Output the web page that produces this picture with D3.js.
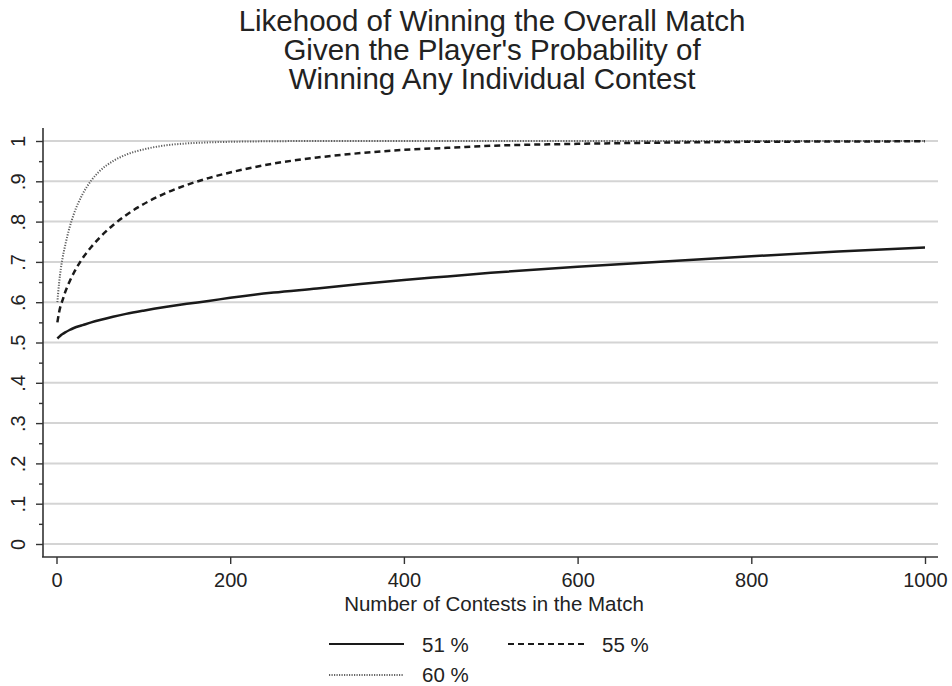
<!DOCTYPE html>
<html lang="en">
  <head>
    <meta charset="UTF-8" />
    <script src="https://d3js.org/d3.v7.min.js"></script>
    <title>Likehood of Winning the Overall Match</title>
    <style type="text/css">
      body { margin: 0; background: #fff; }
      text { font-family: 'Liberation Sans', Arial, sans-serif; fill: #222; }
    </style>
  </head>
  <body>
    <svg width="952" height="686"></svg>
  </body>
  <script type="text/javascript">
    // data
    const contests = [1, 3, 5, 7, 10, 15, 20, 30, 40, 50, 65, 80, 100, 125, 150, 175, 200, 250, 300, 350, 400, 450, 500, 600, 700, 800, 900, 1000];
    const p51 = [0.51, 0.514, 0.518, 0.521, 0.525, 0.531, 0.536, 0.543, 0.55, 0.556, 0.564, 0.571, 0.579, 0.588, 0.596, 0.603, 0.611, 0.624, 0.634, 0.645, 0.655, 0.664, 0.673, 0.688, 0.701, 0.714, 0.726, 0.736];
    const p55 = [0.55, 0.575, 0.593, 0.605, 0.625, 0.651, 0.673, 0.709, 0.737, 0.761, 0.791, 0.816, 0.843, 0.87, 0.891, 0.908, 0.922, 0.944, 0.959, 0.97, 0.978, 0.983, 0.988, 0.993, 0.996, 0.998, 0.9987, 0.9993];
    const p60 = [0.6, 0.648, 0.683, 0.71, 0.741, 0.785, 0.819, 0.868, 0.902, 0.926, 0.95, 0.966, 0.979, 0.989, 0.994, 0.9965, 0.998, 0.9994, 1, 1, 1, 1, 1, 1, 1, 1, 1, 1];
    const seriesNames = ['51 %', '55 %', '60 %'];
    const xTicks = [0, 200, 400, 600, 800, 1000];
    const yTicks = [0, 0.1, 0.2, 0.3, 0.4, 0.5, 0.6, 0.7, 0.8, 0.9, 1];
    const titleLines = ['Likehood of Winning the Overall Match', "Given the Player's Probability of", 'Winning Any Individual Contest'];

    const svg = d3.select('svg');

    // line styles per series
    const styles = [
      { stroke: '#1a1a1a', width: 2.5, dash: null },
      { stroke: '#1a1a1a', width: 2.5, dash: '6,4' },
      { stroke: '#5e5e5e', width: 2, dash: '1.2,1.5' },
    ];

    const x = d3.scaleLinear().domain([0, 1000]).range([56.5, 925]);
    const y = d3.scaleLinear().domain([0, 1]).range([544, 141]);

    // title
    svg.append('g')
      .selectAll('text')
      .data(titleLines)
      .join('text')
      .attr('x', 492)
      .attr('y', (d, i) => 31 + i * 29)
      .attr('text-anchor', 'middle')
      .attr('font-size', '29.5px')
      .text((d) => d);

    // gridlines
    svg.append('g')
      .selectAll('line')
      .data(yTicks)
      .join('line')
      .attr('x1', 43)
      .attr('x2', 938)
      .attr('y1', (d) => y(d))
      .attr('y2', (d) => y(d))
      .attr('stroke', '#d4d4d4')
      .attr('stroke-width', 2);

    // y axis
    const yAxis = svg.append('g').attr('transform', 'translate(43,0)');
    yAxis.call(d3.axisLeft(y).tickValues(d3.range(0.05, 1, 0.1)).tickSize(4).tickFormat(''));
    yAxis.call((g) => g.select('.domain').remove());
    const yMajor = svg.append('g').attr('transform', 'translate(43,0)')
      .call(d3.axisLeft(y).tickValues(yTicks).tickSize(7).tickFormat((d) => (d === 0 || d === 1 ? String(d) : d3.format('.1f')(d).replace('0.', '.'))));
    yMajor.select('.domain').remove();
    yMajor.selectAll('.tick text')
      .attr('font-size', '20px')
      .attr('x', 0)
      .attr('dy', 0)
      .attr('text-anchor', 'middle')
      .attr('transform', 'translate(-18,0) rotate(-90)');
    svg.selectAll('.tick line').attr('stroke', '#333').attr('stroke-width', 1.4);
    svg.append('line')
      .attr('x1', 43).attr('x2', 43).attr('y1', 128).attr('y2', 557)
      .attr('stroke', '#333').attr('stroke-width', 1.6);

    // x axis
    const xAxis = svg.append('g').attr('transform', 'translate(0,557)')
      .call(d3.axisBottom(x).tickValues(xTicks).tickSize(7).tickFormat(d3.format('d')));
    xAxis.select('.domain').remove();
    xAxis.selectAll('.tick line').attr('stroke', '#333').attr('stroke-width', 1.4);
    xAxis.selectAll('.tick text').attr('font-size', '20px').attr('dy', '1em');
    svg.append('line')
      .attr('x1', 42).attr('x2', 938).attr('y1', 557).attr('y2', 557)
      .attr('stroke', '#333').attr('stroke-width', 1.6);

    svg.append('text')
      .attr('x', 494)
      .attr('y', 610.5)
      .attr('text-anchor', 'middle')
      .attr('font-size', '20.5px')
      .text('Number of Contests in the Match');

    // series lines
    const allSeries = [p51, p55, p60];
    const line = d3.line()
      .x((d) => x(d[0]))
      .y((d) => y(d[1]))
      .curve(d3.curveMonotoneX);

    // draw the dotted one first so the others sit on top
    [2, 1, 0].forEach((k) => {
      svg.append('path')
        .datum(contests.map((c, i) => [c, allSeries[k][i]]))
        .attr('d', line)
        .attr('fill', 'none')
        .attr('stroke', styles[k].stroke)
        .attr('stroke-width', styles[k].width)
        .attr('stroke-dasharray', styles[k].dash);
    });

    // legend
    const legendPos = [
      { lx: 329, ly: 644 },
      { lx: 508, ly: 644 },
      { lx: 329, ly: 675 },
    ];
    const legend = svg.append('g')
      .selectAll('g')
      .data(seriesNames)
      .join('g')
      .attr('transform', (d, i) => `translate(${legendPos[i].lx},${legendPos[i].ly})`);
    legend.append('line')
      .attr('x1', 0)
      .attr('x2', (d, i) => (i === 1 ? 79 : 75))
      .attr('stroke', (d, i) => (i === 2 ? '#333' : styles[i].stroke))
      .attr('stroke-width', (d, i) => (i === 2 ? 1.5 : 2))
      .attr('stroke-dasharray', (d, i) => (i === 2 ? '1.2,1.3' : styles[i].dash));
    legend.append('text')
      .attr('x', (d, i) => (i === 1 ? 94 : 93))
      .attr('y', (d, i) => (i === 2 ? 6.5 : 7.5))
      .attr('font-size', '20.5px')
      .text((d) => d);
  </script>
</html>
